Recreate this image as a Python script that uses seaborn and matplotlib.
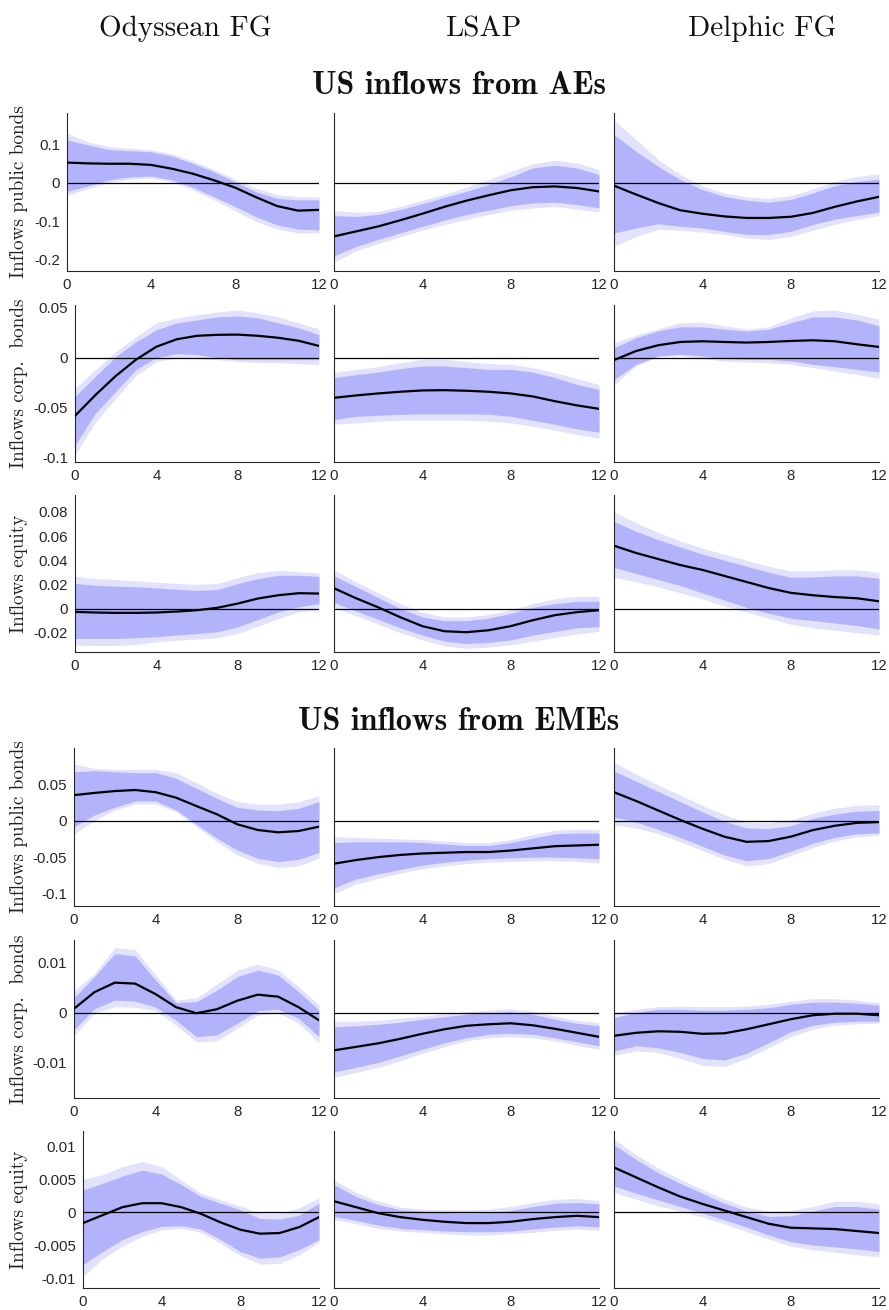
import matplotlib
matplotlib.use("Agg")
import matplotlib.pyplot as plt
import seaborn as sns
import pandas as pd

# ---------------- labels ----------------
horizons = list(range(13))
shocks = ["Odyssean FG", "LSAP", "Delphic FG"]
sections = ["US inflows from AEs", "US inflows from EMEs"]
variables = ["Inflows public bonds", "Inflows corp.  bonds", "Inflows equity"]
xtick_vals = [0, 4, 8, 12]
xtick_labels = ["0", "4", "8", "12"]

# y ticks per row
yticks_rows = [
    [-0.2, -0.1, 0, 0.1],
    [-0.1, -0.05, 0, 0.05],
    [-0.02, 0, 0.02, 0.04, 0.06, 0.08],
    [-0.1, -0.05, 0, 0.05],
    [-0.01, 0, 0.01],
    [-0.01, -0.005, 0, 0.005, 0.01],
]
ytick_labels_rows = [
    ["-0.2", "-0.1", "0", "0.1"],
    ["-0.1", "-0.05", "0", "0.05"],
    ["-0.02", "0", "0.02", "0.04", "0.06", "0.08"],
    ["-0.1", "-0.05", "0", "0.05"],
    ["-0.01", "0", "0.01"],
    ["-0.01", "-0.005", "0", "0.005", "0.01"],
]
ylim_rows = [(-0.229, 0.182), (-0.105, 0.053), (-0.036, 0.094),
             (-0.117, 0.0996), (-0.017, 0.0145), (-0.0114, 0.0123)]

# ---------------- data: AEs, public bonds ----------------
ae_pub_ody_med = [0.053, 0.051, 0.050, 0.050, 0.047, 0.037, 0.024, 0.007, -0.012, -0.037, -0.060, -0.072, -0.070]
ae_pub_ody_hi68 = [0.112, 0.099, 0.087, 0.084, 0.081, 0.070, 0.051, 0.029, 0.003, -0.023, -0.040, -0.044, -0.044]
ae_pub_ody_lo68 = [-0.022, -0.008, 0.008, 0.016, 0.018, 0.008, -0.011, -0.036, -0.061, -0.088, -0.109, -0.120, -0.122]
ae_pub_ody_hi90 = [0.129, 0.107, 0.095, 0.090, 0.086, 0.076, 0.057, 0.035, 0.010, -0.014, -0.030, -0.036, -0.036]
ae_pub_ody_lo90 = [-0.032, -0.015, 0.002, 0.010, 0.013, 0.003, -0.018, -0.044, -0.072, -0.100, -0.120, -0.130, -0.130]

ae_pub_lsap_med = [-0.139, -0.126, -0.113, -0.097, -0.080, -0.062, -0.046, -0.032, -0.019, -0.011, -0.009, -0.013, -0.022]
ae_pub_lsap_hi68 = [-0.085, -0.087, -0.082, -0.069, -0.054, -0.037, -0.022, -0.004, 0.016, 0.039, 0.046, 0.039, 0.022]
ae_pub_lsap_lo68 = [-0.190, -0.165, -0.147, -0.130, -0.113, -0.097, -0.082, -0.071, -0.059, -0.052, -0.050, -0.056, -0.065]
ae_pub_lsap_hi90 = [-0.072, -0.076, -0.074, -0.061, -0.045, -0.029, -0.011, 0.009, 0.030, 0.050, 0.059, 0.052, 0.035]
ae_pub_lsap_lo90 = [-0.206, -0.177, -0.158, -0.140, -0.123, -0.108, -0.095, -0.082, -0.071, -0.065, -0.061, -0.068, -0.076]

ae_pub_del_med = [-0.007, -0.030, -0.052, -0.071, -0.080, -0.087, -0.091, -0.091, -0.088, -0.078, -0.062, -0.048, -0.036]
ae_pub_del_hi68 = [0.126, 0.082, 0.043, 0.009, -0.017, -0.035, -0.045, -0.050, -0.043, -0.026, -0.007, 0.004, 0.010]
ae_pub_del_lo68 = [-0.130, -0.117, -0.106, -0.113, -0.117, -0.126, -0.134, -0.134, -0.126, -0.108, -0.094, -0.085, -0.076]
ae_pub_del_hi90 = [0.163, 0.113, 0.061, 0.022, -0.007, -0.026, -0.036, -0.040, -0.033, -0.016, 0.004, 0.017, 0.024]
ae_pub_del_lo90 = [-0.165, -0.139, -0.121, -0.123, -0.128, -0.134, -0.143, -0.147, -0.139, -0.123, -0.108, -0.095, -0.085]

# ---------------- data: AEs, corporate bonds ----------------
ae_corp_ody_med = [-0.0586, -0.0377, -0.0185, -0.002, 0.011, 0.0185, 0.022, 0.023, 0.0232, 0.022, 0.020, 0.017, 0.0118]
ae_corp_ody_hi68 = [-0.039, -0.019, 0.001, 0.016, 0.028, 0.035, 0.038, 0.041, 0.042, 0.040, 0.035, 0.030, 0.023]
ae_corp_ody_lo68 = [-0.088, -0.056, -0.034, -0.012, 0.000, 0.004, 0.003, 0.000, -0.002, -0.002, -0.002, -0.002, -0.002]
ae_corp_ody_hi90 = [-0.031, -0.012, 0.006, 0.021, 0.035, 0.040, 0.043, 0.046, 0.048, 0.045, 0.041, 0.035, 0.029]
ae_corp_ody_lo90 = [-0.098, -0.065, -0.041, -0.018, -0.004, 0.000, -0.001, -0.002, -0.004, -0.005, -0.005, -0.006, -0.007]

ae_corp_lsap_med = [-0.0404, -0.038, -0.036, -0.0343, -0.033, -0.0327, -0.0333, -0.0343, -0.036, -0.039, -0.0438, -0.048, -0.0515]
ae_corp_lsap_hi68 = [-0.020, -0.017, -0.0145, -0.011, -0.0084, -0.0084, -0.010, -0.0118, -0.0118, -0.0145, -0.020, -0.027, -0.032]
ae_corp_lsap_lo68 = [-0.0623, -0.059, -0.058, -0.057, -0.0566, -0.0566, -0.0566, -0.057, -0.059, -0.063, -0.067, -0.0717, -0.075]
ae_corp_lsap_hi90 = [-0.015, -0.0118, -0.009, -0.005, -0.0017, -0.0017, -0.004, -0.006, -0.0067, -0.010, -0.015, -0.021, -0.027]
ae_corp_lsap_lo90 = [-0.067, -0.0657, -0.064, -0.063, -0.063, -0.063, -0.063, -0.064, -0.0657, -0.069, -0.073, -0.0774, -0.081]

ae_corp_del_med = [-0.0024, 0.0067, 0.0125, 0.0158, 0.0165, 0.0158, 0.0152, 0.0158, 0.0168, 0.0175, 0.0165, 0.0135, 0.0108]
ae_corp_del_hi68 = [0.010, 0.020, 0.027, 0.031, 0.031, 0.0286, 0.027, 0.0286, 0.035, 0.041, 0.041, 0.038, 0.032]
ae_corp_del_lo68 = [-0.022, -0.0067, 0.0017, 0.0034, 0.0017, -0.001, -0.0017, -0.0017, -0.0034, -0.0067, -0.009, -0.0118, -0.0145]
ae_corp_del_hi90 = [0.015, 0.0226, 0.029, 0.035, 0.036, 0.032, 0.029, 0.031, 0.040, 0.047, 0.048, 0.0438, 0.0387]
ae_corp_del_lo90 = [-0.027, -0.0084, 0.001, 0.0017, -0.001, -0.0034, -0.0044, -0.005, -0.0067, -0.010, -0.0135, -0.0168, -0.021]

# ---------------- data: AEs, equity ----------------
ae_eq_ody_med = [-0.0028, -0.0033, -0.0036, -0.0036, -0.0033, -0.0025, -0.0014, 0.0006, 0.0041, 0.0083, 0.011, 0.0127, 0.0124]
ae_eq_ody_hi68 = [0.0207, 0.0193, 0.0185, 0.018, 0.0171, 0.016, 0.015, 0.0157, 0.0207, 0.0248, 0.0275, 0.0275, 0.0267]
ae_eq_ody_lo68 = [-0.0248, -0.0248, -0.0248, -0.0242, -0.0234, -0.022, -0.0207, -0.0193, -0.0152, -0.0091, -0.0028, 0.0014, 0.0041]
ae_eq_ody_hi90 = [0.0267, 0.0248, 0.024, 0.0229, 0.0218, 0.0207, 0.0201, 0.0207, 0.0256, 0.0298, 0.0317, 0.0303, 0.0295]
ae_eq_ody_lo90 = [-0.0303, -0.0306, -0.0306, -0.0298, -0.0275, -0.0262, -0.0253, -0.0242, -0.0207, -0.0146, -0.0083, -0.0028, -0.0008]

ae_eq_lsap_med = [0.0168, 0.0085, 0.001, -0.0072, -0.0146, -0.0188, -0.0196, -0.018, -0.0146, -0.0097, -0.0055, -0.003, -0.0014]
ae_eq_lsap_hi68 = [0.027, 0.018, 0.009, 0.000, -0.007, -0.010, -0.010, -0.008, -0.004, 0.001, 0.004, 0.006, 0.006]
ae_eq_lsap_lo68 = [0.005, -0.002, -0.009, -0.016, -0.022, -0.027, -0.029, -0.028, -0.026, -0.022, -0.019, -0.016, -0.015]
ae_eq_lsap_hi90 = [0.032, 0.022, 0.013, 0.004, -0.003, -0.007, -0.007, -0.005, -0.001, 0.004, 0.008, 0.010, 0.010]
ae_eq_lsap_lo90 = [0.001, -0.006, -0.013, -0.020, -0.026, -0.031, -0.033, -0.032, -0.030, -0.027, -0.024, -0.021, -0.019]

ae_eq_del_med = [0.052, 0.046, 0.041, 0.036, 0.032, 0.027, 0.022, 0.017, 0.013, 0.011, 0.0095, 0.0085, 0.006]
ae_eq_del_hi68 = [0.072, 0.064, 0.057, 0.051, 0.045, 0.040, 0.035, 0.030, 0.026, 0.026, 0.027, 0.027, 0.025]
ae_eq_del_lo68 = [0.034, 0.029, 0.024, 0.019, 0.013, 0.007, 0.001, -0.004, -0.008, -0.010, -0.012, -0.014, -0.017]
ae_eq_del_hi90 = [0.080, 0.071, 0.063, 0.056, 0.050, 0.045, 0.040, 0.035, 0.031, 0.031, 0.032, 0.032, 0.030]
ae_eq_del_lo90 = [0.026, 0.022, 0.018, 0.013, 0.008, 0.002, -0.003, -0.008, -0.013, -0.016, -0.018, -0.020, -0.022]

# ---------------- data: EMEs, public bonds ----------------
em_pub_ody_med = [0.035, 0.038, 0.0406, 0.042, 0.039, 0.0315, 0.020, 0.0087, -0.005, -0.0128, -0.016, -0.0142, -0.0082]
em_pub_ody_hi68 = [0.067, 0.0685, 0.067, 0.0658, 0.0658, 0.058, 0.0443, 0.0306, 0.0183, 0.0146, 0.0137, 0.0169, 0.026]
em_pub_ody_lo68 = [-0.0082, 0.0078, 0.0183, 0.027, 0.027, 0.0146, -0.005, -0.0242, -0.0402, -0.0516, -0.0562, -0.053, -0.0438]
em_pub_ody_hi90 = [0.0776, 0.0717, 0.0703, 0.0703, 0.0703, 0.0658, 0.052, 0.0374, 0.026, 0.0228, 0.0228, 0.026, 0.0342]
em_pub_ody_lo90 = [-0.0183, 0.000, 0.0146, 0.0228, 0.0228, 0.0123, -0.0082, -0.0288, -0.047, -0.0584, -0.0644, -0.062, -0.0516]

em_pub_lsap_med = [-0.059, -0.054, -0.050, -0.047, -0.045, -0.044, -0.043, -0.043, -0.041, -0.038, -0.035, -0.034, -0.033]
em_pub_lsap_hi68 = [-0.030, -0.029, -0.029, -0.029, -0.030, -0.032, -0.034, -0.034, -0.030, -0.024, -0.018, -0.017, -0.017]
em_pub_lsap_lo68 = [-0.092, -0.080, -0.073, -0.067, -0.061, -0.057, -0.054, -0.052, -0.051, -0.050, -0.050, -0.051, -0.052]
em_pub_lsap_hi90 = [-0.022, -0.023, -0.024, -0.025, -0.026, -0.028, -0.030, -0.030, -0.026, -0.019, -0.013, -0.012, -0.012]
em_pub_lsap_lo90 = [-0.100, -0.087, -0.079, -0.072, -0.066, -0.062, -0.059, -0.057, -0.056, -0.055, -0.055, -0.056, -0.058]

em_pub_del_med = [0.039, 0.027, 0.014, 0.001, -0.011, -0.022, -0.029, -0.028, -0.022, -0.013, -0.007, -0.003, -0.002]
em_pub_del_hi68 = [0.068, 0.054, 0.040, 0.026, 0.012, -0.001, -0.010, -0.011, -0.007, 0.003, 0.009, 0.013, 0.014]
em_pub_del_lo68 = [0.005, -0.002, -0.012, -0.023, -0.035, -0.047, -0.055, -0.052, -0.042, -0.031, -0.023, -0.018, -0.017]
em_pub_del_hi90 = [0.080, 0.064, 0.049, 0.035, 0.021, 0.008, -0.002, -0.003, 0.001, 0.010, 0.017, 0.021, 0.022]
em_pub_del_lo90 = [-0.006, -0.010, -0.018, -0.029, -0.041, -0.053, -0.062, -0.059, -0.048, -0.037, -0.028, -0.022, -0.020]

# ---------------- data: EMEs, corporate bonds ----------------
em_corp_ody_med = [0.0008, 0.0041, 0.0060, 0.0058, 0.0037, 0.0011, -0.0001, 0.0007, 0.0024, 0.0036, 0.0032, 0.0011, -0.0015]
em_corp_ody_hi68 = [0.0030, 0.0072, 0.0118, 0.0113, 0.0065, 0.0020, 0.0022, 0.0045, 0.0072, 0.0085, 0.0075, 0.0042, 0.0005]
em_corp_ody_lo68 = [-0.0034, 0.0008, 0.0025, 0.0023, 0.0011, -0.0015, -0.0048, -0.0044, -0.0021, 0.0004, 0.0007, -0.0011, -0.0048]
em_corp_ody_hi90 = [0.0044, 0.0078, 0.0130, 0.0126, 0.0075, 0.0025, 0.0030, 0.0057, 0.0085, 0.0097, 0.0085, 0.0052, 0.0015]
em_corp_ody_lo90 = [-0.0046, -0.0001, 0.0012, 0.0011, 0.0004, -0.0025, -0.0058, -0.0056, -0.0031, -0.0005, 0.0000, -0.0021, -0.0060]

em_corp_lsap_med = [-0.0075, -0.0068, -0.0061, -0.0052, -0.0042, -0.0033, -0.0026, -0.0023, -0.0021, -0.0025, -0.0032, -0.0040, -0.0048]
em_corp_lsap_hi68 = [-0.0028, -0.0026, -0.0023, -0.0019, -0.0013, -0.0008, -0.0003, 0.0000, 0.0002, -0.0003, -0.0013, -0.0021, -0.0026]
em_corp_lsap_lo68 = [-0.0118, -0.0109, -0.0099, -0.0086, -0.0073, -0.0060, -0.0050, -0.0043, -0.0041, -0.0043, -0.0050, -0.0058, -0.0066]
em_corp_lsap_hi90 = [-0.0017, -0.0017, -0.0015, -0.0011, -0.0007, -0.0002, 0.0002, 0.0005, 0.0008, 0.0003, -0.0007, -0.0015, -0.0020]
em_corp_lsap_lo90 = [-0.0129, -0.0119, -0.0109, -0.0096, -0.0081, -0.0068, -0.0056, -0.0050, -0.0048, -0.0050, -0.0056, -0.0065, -0.0073]

em_corp_del_med = [-0.0046, -0.0040, -0.0037, -0.0038, -0.0042, -0.0041, -0.0033, -0.0023, -0.0013, -0.0005, -0.0002, -0.0002, -0.0005]
em_corp_del_hi68 = [-0.0010, 0.0001, 0.0007, 0.0007, 0.0005, 0.0005, 0.0007, 0.0010, 0.0017, 0.0021, 0.0021, 0.0019, 0.0015]
em_corp_del_lo68 = [-0.0076, -0.0066, -0.0070, -0.0079, -0.0091, -0.0094, -0.0081, -0.0060, -0.0038, -0.0025, -0.0019, -0.0017, -0.0017]
em_corp_del_hi90 = [-0.0001, 0.0007, 0.0012, 0.0013, 0.0012, 0.0012, 0.0013, 0.0017, 0.0023, 0.0028, 0.0028, 0.0025, 0.0020]
em_corp_del_lo90 = [-0.0085, -0.0076, -0.0079, -0.0091, -0.0105, -0.0107, -0.0091, -0.0070, -0.0048, -0.0033, -0.0025, -0.0022, -0.0021]

# ---------------- data: EMEs, equity ----------------
em_eq_ody_med = [-0.0016, -0.0004, 0.0008, 0.0014, 0.0014, 0.0008, -0.0002, -0.0015, -0.0026, -0.0032, -0.0031, -0.0022, -0.0007]
em_eq_ody_hi68 = [0.0034, 0.0044, 0.0055, 0.0064, 0.0058, 0.0042, 0.0024, 0.0014, 0.0004, -0.0009, -0.0010, -0.0004, 0.0014]
em_eq_ody_lo68 = [-0.0079, -0.0059, -0.0041, -0.0029, -0.0021, -0.0020, -0.0025, -0.0041, -0.0059, -0.0069, -0.0067, -0.0056, -0.0041]
em_eq_ody_hi90 = [0.0050, 0.0057, 0.0069, 0.0077, 0.0069, 0.0049, 0.0029, 0.0019, 0.0010, -0.0001, -0.0001, 0.0007, 0.0022]
em_eq_ody_lo90 = [-0.0097, -0.0070, -0.0051, -0.0036, -0.0026, -0.0024, -0.0030, -0.0047, -0.0065, -0.0078, -0.0077, -0.0064, -0.0045]

em_eq_lsap_med = [0.0017, 0.0008, -0.0001, -0.0007, -0.0011, -0.0014, -0.0016, -0.0016, -0.0014, -0.0010, -0.0007, -0.0005, -0.0007]
em_eq_lsap_hi68 = [0.0042, 0.0024, 0.0012, 0.0004, 0.0002, 0.0000, -0.0001, 0.0000, 0.0003, 0.0009, 0.0014, 0.0015, 0.0013]
em_eq_lsap_lo68 = [-0.0006, -0.0012, -0.0019, -0.0024, -0.0026, -0.0028, -0.0029, -0.0029, -0.0028, -0.0025, -0.0022, -0.0020, -0.0022]
em_eq_lsap_hi90 = [0.0049, 0.0030, 0.0017, 0.0008, 0.0005, 0.0004, 0.0004, 0.0005, 0.0009, 0.0015, 0.0020, 0.0021, 0.0018]
em_eq_lsap_lo90 = [-0.0011, -0.0017, -0.0024, -0.0028, -0.0030, -0.0032, -0.0034, -0.0034, -0.0032, -0.0030, -0.0027, -0.0025, -0.0027]

em_eq_del_med = [0.0068, 0.0053, 0.0038, 0.0024, 0.0013, 0.0003, -0.0007, -0.0017, -0.0023, -0.0024, -0.0025, -0.0028, -0.0031]
em_eq_del_hi68 = [0.0102, 0.0080, 0.0060, 0.0044, 0.0029, 0.0014, 0.0002, -0.0006, -0.0005, 0.0002, 0.0009, 0.0009, 0.0005]
em_eq_del_lo68 = [0.0040, 0.0029, 0.0019, 0.0009, -0.0001, -0.0011, -0.0022, -0.0034, -0.0044, -0.0049, -0.0052, -0.0055, -0.0059]
em_eq_del_hi90 = [0.0111, 0.0087, 0.0067, 0.0050, 0.0035, 0.0020, 0.0008, 0.0002, 0.0003, 0.0009, 0.0017, 0.0017, 0.0013]
em_eq_del_lo90 = [0.0030, 0.0020, 0.0010, 0.0002, -0.0007, -0.0017, -0.0029, -0.0040, -0.0051, -0.0056, -0.0060, -0.0064, -0.0067]

panels = [
    [(ae_pub_ody_med, ae_pub_ody_lo68, ae_pub_ody_hi68, ae_pub_ody_lo90, ae_pub_ody_hi90),
     (ae_pub_lsap_med, ae_pub_lsap_lo68, ae_pub_lsap_hi68, ae_pub_lsap_lo90, ae_pub_lsap_hi90),
     (ae_pub_del_med, ae_pub_del_lo68, ae_pub_del_hi68, ae_pub_del_lo90, ae_pub_del_hi90)],
    [(ae_corp_ody_med, ae_corp_ody_lo68, ae_corp_ody_hi68, ae_corp_ody_lo90, ae_corp_ody_hi90),
     (ae_corp_lsap_med, ae_corp_lsap_lo68, ae_corp_lsap_hi68, ae_corp_lsap_lo90, ae_corp_lsap_hi90),
     (ae_corp_del_med, ae_corp_del_lo68, ae_corp_del_hi68, ae_corp_del_lo90, ae_corp_del_hi90)],
    [(ae_eq_ody_med, ae_eq_ody_lo68, ae_eq_ody_hi68, ae_eq_ody_lo90, ae_eq_ody_hi90),
     (ae_eq_lsap_med, ae_eq_lsap_lo68, ae_eq_lsap_hi68, ae_eq_lsap_lo90, ae_eq_lsap_hi90),
     (ae_eq_del_med, ae_eq_del_lo68, ae_eq_del_hi68, ae_eq_del_lo90, ae_eq_del_hi90)],
    [(em_pub_ody_med, em_pub_ody_lo68, em_pub_ody_hi68, em_pub_ody_lo90, em_pub_ody_hi90),
     (em_pub_lsap_med, em_pub_lsap_lo68, em_pub_lsap_hi68, em_pub_lsap_lo90, em_pub_lsap_hi90),
     (em_pub_del_med, em_pub_del_lo68, em_pub_del_hi68, em_pub_del_lo90, em_pub_del_hi90)],
    [(em_corp_ody_med, em_corp_ody_lo68, em_corp_ody_hi68, em_corp_ody_lo90, em_corp_ody_hi90),
     (em_corp_lsap_med, em_corp_lsap_lo68, em_corp_lsap_hi68, em_corp_lsap_lo90, em_corp_lsap_hi90),
     (em_corp_del_med, em_corp_del_lo68, em_corp_del_hi68, em_corp_del_lo90, em_corp_del_hi90)],
    [(em_eq_ody_med, em_eq_ody_lo68, em_eq_ody_hi68, em_eq_ody_lo90, em_eq_ody_hi90),
     (em_eq_lsap_med, em_eq_lsap_lo68, em_eq_lsap_hi68, em_eq_lsap_lo90, em_eq_lsap_hi90),
     (em_eq_del_med, em_eq_del_lo68, em_eq_del_hi68, em_eq_del_lo90, em_eq_del_hi90)],
]

# ---------------- style & layout ----------------
sns.set_style("white")
plt.rcParams['font.family'] = ['Liberation Sans', 'DejaVu Sans']
plt.rcParams['axes.unicode_minus'] = False

DARK = '#b3b3fb'
LIGHT = '#e2e2fc'
AXC = '#262626'
SERIF = 'cmr10'
SERIF_B = 'cmb10'

W, H = 889, 1310
fig = plt.figure(figsize=(W / 100, H / 100), dpi=100)

row_tb = [(113, 271), (305, 462), (495, 652), (748, 906), (940, 1098), (1131, 1288)]
col1_left = [67, 75, 75, 74, 74, 83]
col_lr = [(None, 319), (334, 599), (614, 879)]


def add_ax(l, t, r, b):
    return fig.add_axes([l / W, 1 - b / H, (r - l) / W, (b - t) / H])


for ri in range(6):
    t, b = row_tb[ri]
    for ci in range(3):
        l = col1_left[ri] if ci == 0 else col_lr[ci][0]
        r = col_lr[ci][1]
        ax = add_ax(l, t, r, b)
        med, lo68, hi68, lo90, hi90 = panels[ri][ci]
        ax.fill_between(horizons, lo90, hi90, color=LIGHT, lw=0, zorder=1)
        ax.fill_between(horizons, lo68, hi68, color=DARK, lw=0, zorder=2)
        ax.axhline(0, color='black', lw=0.9, zorder=3)
        df = pd.DataFrame({'h': horizons, 'v': med})
        sns.lineplot(data=df, x='h', y='v', ax=ax, color='black', lw=1.6, zorder=4)
        ax.set_xlim(0, 12)
        ax.set_ylim(*ylim_rows[ri])
        ax.set_xlabel('')
        ax.set_ylabel('')
        for s in ['top', 'right']:
            ax.spines[s].set_visible(False)
        for s in ['left', 'bottom']:
            ax.spines[s].set_color(AXC)
            ax.spines[s].set_linewidth(0.8)
        ax.set_xticks(xtick_vals)
        ax.set_xticklabels(xtick_labels)
        ax.tick_params(axis='both', direction='in', length=3, width=0.7,
                       color=AXC, labelcolor=AXC, labelsize=10.8, pad=5)
        if ci == 0:
            ax.set_yticks(yticks_rows[ri])
            ax.set_yticklabels(ytick_labels_rows[ri])
            ax.set_ylabel(variables[ri % 3], family=SERIF, fontsize=13.8, color='#222222')
            ax.yaxis.set_label_coords((28 - l) / (r - l), 0.5)
        else:
            ax.set_yticks([])

# column titles
col_title_x = [185, 483, 762]
for i, s in enumerate(shocks):
    fig.text(col_title_x[i] / W, 1 - 29 / H, s, family=SERIF, fontsize=21,
             ha='center', va='center', color='#111111')

# section titles
fig.text(459 / W, 1 - 86 / H, sections[0], family=SERIF_B, fontsize=23,
         ha='center', va='center', color='#111111')
fig.text(459 / W, 1 - 722 / H, sections[1], family=SERIF_B, fontsize=23,
         ha='center', va='center', color='#111111')

fig.savefig('out.png', dpi=100)
